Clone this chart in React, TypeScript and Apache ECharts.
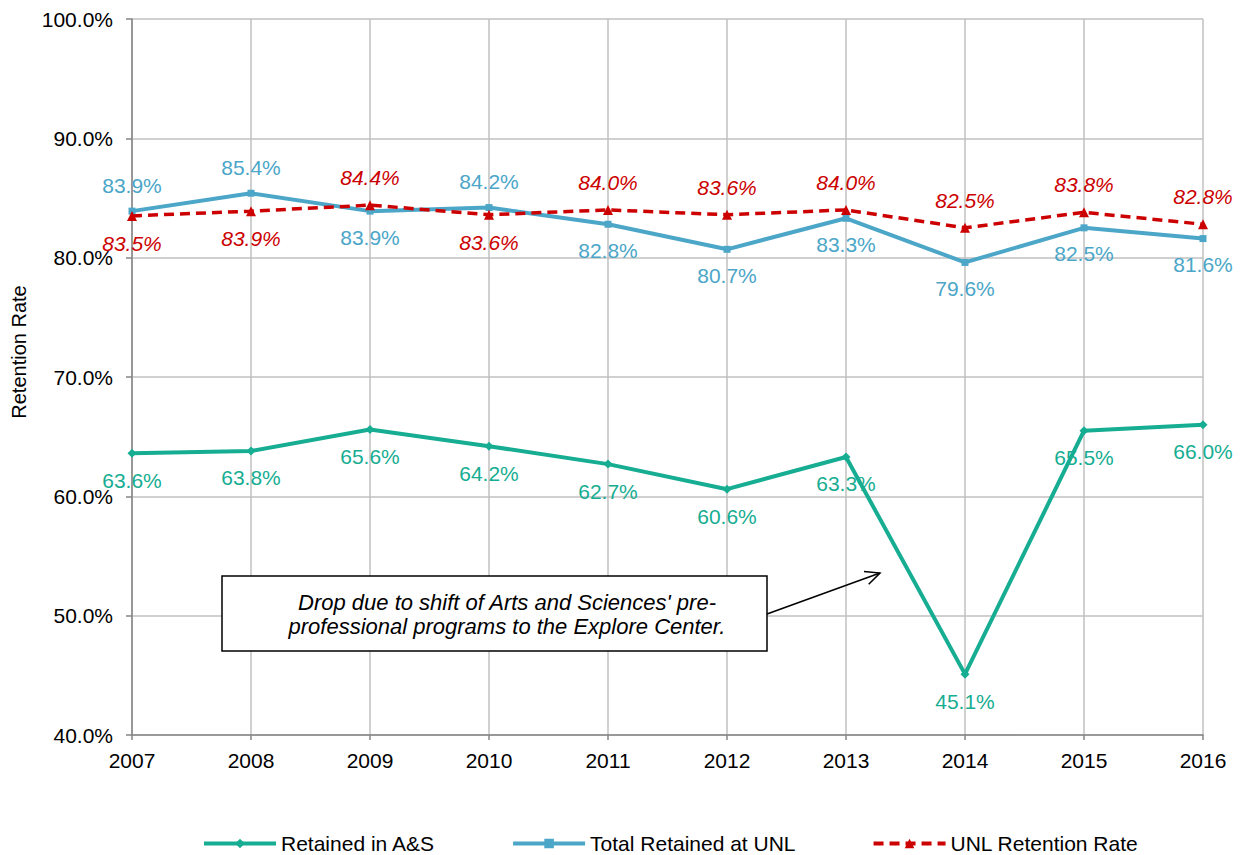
import React, { useEffect, useRef } from "react";
import * as echarts from "echarts";

const years = ["2007", "2008", "2009", "2010", "2011", "2012", "2013", "2014", "2015", "2016"];
const retainedAS = [63.6, 63.8, 65.6, 64.2, 62.7, 60.6, 63.3, 45.1, 65.5, 66.0];
const totalUNL = [83.9, 85.4, 83.9, 84.2, 82.8, 80.7, 83.3, 79.6, 82.5, 81.6];
const unlRate = [83.5, 83.9, 84.4, 83.6, 84.0, 83.6, 84.0, 82.5, 83.8, 82.8];
// label placement per point (top / bottom)
const totalLabelPos = ["top", "top", "bottom", "top", "bottom", "bottom", "bottom", "bottom", "bottom", "bottom"];
const unlLabelPos = ["bottom", "bottom", "top", "bottom", "top", "top", "top", "top", "top", "top"];

const FONT = "'Liberation Sans', Arial, sans-serif";
const TEAL = "#16AD92";
const BLUE = "#4BA6C8";
const RED = "#CC0000";

export default function App() {
  const ref = useRef<HTMLDivElement>(null);
  useEffect(() => {
    if (!ref.current) return;
    document.body.style.margin = "0";
    document.body.style.overflow = "hidden";
    const chart = echarts.init(ref.current, undefined, { renderer: "svg" });
    const fmt = (p: any) => Number(p.value).toFixed(1) + "%";
    const baseLabel = { show: true, fontSize: 21, fontFamily: FONT, distance: 12, formatter: fmt };
    chart.setOption({
      animation: false,
      textStyle: { fontFamily: FONT },
      grid: { left: 132, right: 40, top: 19, bottom: 120 },
      xAxis: {
        type: "category",
        data: years,
        boundaryGap: false,
        axisLine: { lineStyle: { color: "#868686", width: 1.5 } },
        axisTick: { show: true, alignWithLabel: true, length: 5, lineStyle: { color: "#868686", width: 1.5 } },
        axisLabel: { color: "#000", fontSize: 21, fontFamily: FONT, margin: 15 },
        splitLine: { show: true, lineStyle: { color: "#C0C0C0", width: 1.5 } },
      },
      yAxis: {
        type: "value",
        min: 40,
        max: 100,
        interval: 10,
        axisLine: { show: true, lineStyle: { color: "#868686", width: 1.5 } },
        axisTick: { show: true, length: 6, lineStyle: { color: "#868686", width: 1.5 } },
        axisLabel: { color: "#000", fontSize: 21, fontFamily: FONT, margin: 19, formatter: (v: number) => v.toFixed(1) + "%" },
        splitLine: { show: true, lineStyle: { color: "#C0C0C0", width: 1.5 } },
      },
      legend: {
        top: 828,
        left: 197,
        itemWidth: 72,
        itemHeight: 12,
        itemGap: 76,
        lineStyle: { width: 4 },
        textStyle: { color: "#000", fontSize: 21, fontFamily: FONT },
        data: ["Retained in A&S", "Total Retained at UNL", "UNL Retention Rate"],
      },
      series: [
        {
          name: "Retained in A&S",
          type: "line",
          data: retainedAS,
          symbol: "diamond",
          symbolSize: 9,
          itemStyle: { color: TEAL },
          lineStyle: { color: TEAL, width: 4 },
          label: { ...baseLabel, color: TEAL, position: "bottom" },
          z: 3,
        },
        {
          name: "Total Retained at UNL",
          type: "line",
          data: totalUNL.map((v, i) => ({ value: v, label: { position: totalLabelPos[i] } })),
          symbol: "rect",
          symbolSize: 7,
          itemStyle: { color: BLUE },
          lineStyle: { color: BLUE, width: 4 },
          label: { ...baseLabel, color: BLUE },
          z: 3,
        },
        {
          name: "UNL Retention Rate",
          type: "line",
          data: unlRate.map((v, i) => ({ value: v, label: { position: unlLabelPos[i] } })),
          symbol: "triangle",
          symbolSize: 10,
          itemStyle: { color: RED },
          lineStyle: { color: RED, width: 3.5, type: [10, 6] },
          label: { ...baseLabel, color: RED, fontStyle: "italic" },
          z: 4,
        },
      ],
      graphic: [
        {
          type: "text",
          x: 19,
          y: 352,
          rotation: Math.PI / 2,
          style: {
            text: "Retention Rate",
            fontSize: 20,
            fontFamily: FONT,
            fill: "#000",
            align: "center",
            verticalAlign: "middle",
          },
        },
        {
          type: "rect",
          shape: { x: 222, y: 576, width: 545, height: 75 },
          style: { fill: "#fff", stroke: "#000", lineWidth: 1.5 },
          z: 10,
        },
        {
          type: "text",
          x: 507,
          y: 614,
          style: {
            text: "Drop due to shift of Arts and Sciences' pre-\nprofessional programs to the Explore Center.",
            fontSize: 22,
            fontStyle: "italic",
            fontFamily: FONT,
            fill: "#000",
            align: "center",
            verticalAlign: "middle",
            lineHeight: 24,
          },
          z: 11,
        },
        {
          type: "line",
          shape: { x1: 767, y1: 614, x2: 880, y2: 573 },
          style: { stroke: "#000", lineWidth: 1.5 },
          z: 10,
        },
        {
          type: "polyline",
          shape: { points: [[864, 571.6], [880, 573], [868.7, 584.3]] },
          style: { stroke: "#000", lineWidth: 1.5, fill: null },
          z: 10,
        },
      ],
    });
    return () => chart.dispose();
  }, []);
  return <div ref={ref} style={{ position: "absolute", left: 0, top: 0, width: 1243, height: 855 }} />;
}
